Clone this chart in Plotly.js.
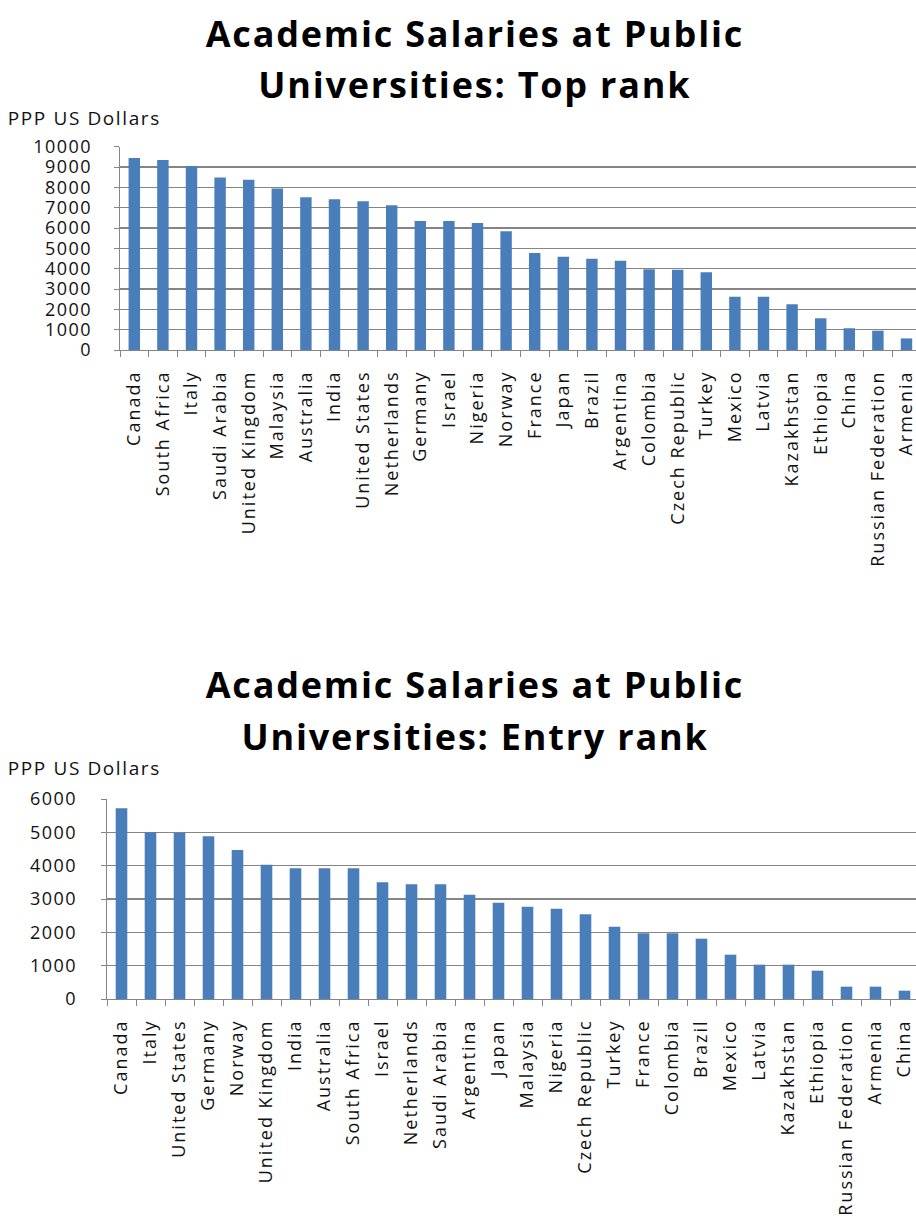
<!DOCTYPE html>
<html>
<head>
<meta charset="utf-8">
<script src="https://cdn.plot.ly/plotly-3.0.1.min.js"></script>
<style>
html, body { margin: 0; padding: 0; background: #ffffff; overflow: hidden; width: 916px; height: 1230px; }
#chart { width: 924px; height: 1230px; }
.xtick text, .x2tick text { letter-spacing: 2px; }
.ytick text, .y2tick text { letter-spacing: 1.5px; }
.annotation[data-index="0"] text, .annotation[data-index="1"] text,
.annotation[data-index="3"] text, .annotation[data-index="4"] text { letter-spacing: 1.8px; }
.annotation[data-index="2"] text, .annotation[data-index="5"] text { letter-spacing: 1.6px; }
</style>
</head>
<body>
<div id="chart"></div>
<script>
// Top rank chart
const topCountries = ["Canada","South Africa","Italy","Saudi Arabia","United Kingdom","Malaysia","Australia","India","United States","Netherlands","Germany","Israel","Nigeria","Norway","France","Japan","Brazil","Argentina","Colombia","Czech Republic","Turkey","Mexico","Latvia","Kazakhstan","Ethiopia","China","Russian Federation","Armenia"];
const topValues = [9450,9350,9050,8480,8380,7950,7510,7410,7320,7120,6350,6350,6250,5840,4770,4590,4490,4390,3970,3950,3820,2620,2620,2250,1560,1070,950,570];

// Entry rank chart
const entryCountries = ["Canada","Italy","United States","Germany","Norway","United Kingdom","India","Australia","South Africa","Israel","Netherlands","Saudi Arabia","Argentina","Japan","Malaysia","Nigeria","Czech Republic","Turkey","France","Colombia","Brazil","Mexico","Latvia","Kazakhstan","Ethiopia","Russian Federation","Armenia","China"];
const entryValues = [5720,5000,4990,4880,4470,4030,3920,3920,3920,3500,3440,3440,3130,2890,2770,2710,2540,2170,1970,1970,1810,1330,1030,1030,850,370,370,250];

const topTicks = [0,1000,2000,3000,4000,5000,6000,7000,8000,9000,10000];
const entryTicks = [0,1000,2000,3000,4000,5000,6000];

const titleTop1 = "Academic Salaries at Public";
const titleTop2 = "Universities: Top rank";
const titleEntry1 = "Academic Salaries at Public";
const titleEntry2 = "Universities: Entry rank";
const yLabel = "PPP US Dollars";

const W = 924, H = 1230;
const px = x => x / W;
const py = y => (H - y) / H;

const FONT = "'Open Sans', 'Liberation Sans', sans-serif";
const BAR = "#4a7ebb";
const GRID = "#858585";

const traces = [
  { type: "bar", x: topCountries, y: topValues, xaxis: "x", yaxis: "y",
    marker: { color: BAR }, hoverinfo: "x+y" },
  { type: "bar", x: entryCountries, y: entryValues, xaxis: "x2", yaxis: "y2",
    marker: { color: BAR }, hoverinfo: "x+y" }
];

const xCommon = {
  type: "category", showline: true, linecolor: GRID, linewidth: 1.3,
  ticks: "outside", tickson: "boundaries", ticklen: 6, tickcolor: GRID,
  tickangle: -90, showgrid: false, fixedrange: true, ticklabelstandoff: 12,
  tickfont: { family: FONT, size: 18, color: "#111" }
};
const yCommon = {
  showline: true, linecolor: GRID, linewidth: 1.3, ticks: "outside", ticklen: 5, tickcolor: GRID,
  showgrid: true, gridcolor: GRID, gridwidth: 1.3, zeroline: false, fixedrange: true,
  tickmode: "array", tickfont: { family: FONT, size: 18, color: "#111" }
};

const titleFont = { family: FONT, size: 36, color: "#000", weight: "bold" };
const axisTitleFont = { family: FONT, size: 19, color: "#111" };

const layout = {
  width: W, height: H,
  margin: { l: 0, r: 0, t: 0, b: 0 },
  paper_bgcolor: "#ffffff", plot_bgcolor: "#ffffff",
  showlegend: false, bargap: 0.6,
  xaxis: Object.assign({}, xCommon, { domain: [px(120), px(920.8)], anchor: "y" }),
  yaxis: Object.assign({}, yCommon, { domain: [py(350), py(146.7)], range: [0, 10000], anchor: "x",
    tickvals: topTicks, ticktext: topTicks.map(String), ticklabelstandoff: 18 }),
  xaxis2: Object.assign({}, xCommon, { domain: [px(107), px(919)], anchor: "y2" }),
  yaxis2: Object.assign({}, yCommon, { domain: [py(999), py(799)], range: [0, 6000], anchor: "x2",
    tickvals: entryTicks, ticktext: entryTicks.map(String), ticklabelstandoff: 20 }),
  annotations: [
    { text: titleTop1, x: px(475), y: py(33), xref: "paper", yref: "paper", showarrow: false,
      xanchor: "center", yanchor: "middle", font: titleFont },
    { text: titleTop2, x: px(475), y: py(85), xref: "paper", yref: "paper", showarrow: false,
      xanchor: "center", yanchor: "middle", font: titleFont },
    { text: yLabel, x: px(84), y: py(118), xref: "paper", yref: "paper", showarrow: false,
      xanchor: "center", yanchor: "middle", font: axisTitleFont },
    { text: titleEntry1, x: px(475), y: py(684), xref: "paper", yref: "paper", showarrow: false,
      xanchor: "center", yanchor: "middle", font: titleFont },
    { text: titleEntry2, x: px(475), y: py(737), xref: "paper", yref: "paper", showarrow: false,
      xanchor: "center", yanchor: "middle", font: titleFont },
    { text: yLabel, x: px(84), y: py(768), xref: "paper", yref: "paper", showarrow: false,
      xanchor: "center", yanchor: "middle", font: axisTitleFont }
  ]
};

Plotly.newPlot("chart", traces, layout, { displayModeBar: false, staticPlot: true });
</script>
</body>
</html>
